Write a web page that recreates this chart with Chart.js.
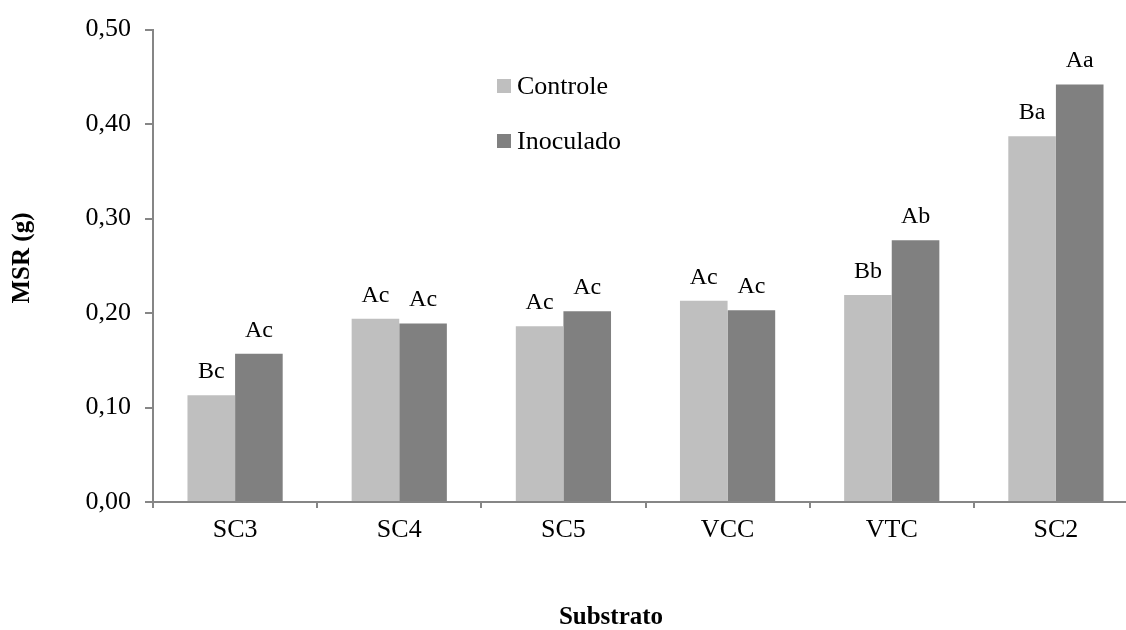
<!DOCTYPE html>
<html>
<head>
<meta charset="utf-8">
<script src="https://cdn.jsdelivr.net/npm/chart.js@4/dist/chart.umd.min.js"></script>
<style>
  html, body { margin: 0; padding: 0; background: #fff; overflow: hidden; }
  #wrap { width: 1160px; height: 630px; }
</style>
</head>
<body>
<div id="wrap"><canvas id="chart" width="1160" height="630"></canvas></div>
<script>
// ── Data ──────────
const substratos = ['SC3', 'SC4', 'SC5', 'VCC', 'VTC', 'SC2'];
const controle = [0.113, 0.194, 0.186, 0.213, 0.219, 0.387];
const inoculado = [0.157, 0.189, 0.202, 0.203, 0.277, 0.442];
const letrasControle = ['Bc', 'Ac', 'Ac', 'Ac', 'Bb', 'Ba'];
const letrasInoculado = ['Ac', 'Ac', 'Ac', 'Ac', 'Ab', 'Aa'];
const yTicks = [0, 0.1, 0.2, 0.3, 0.4, 0.5];

const SERIF = '"Liberation Serif", "Times New Roman", serif';
const AXIS_COLOR = '#868686';

// letters over bars, legend and axis titles
const extras = {
    id: 'extras',
    afterDatasetsDraw(chart) {
        const ctx = chart.ctx;
        ctx.save();
        ctx.fillStyle = '#000';
        ctx.font = '24px ' + SERIF;
        ctx.textAlign = 'center';
        ctx.textBaseline = 'alphabetic';
        [letrasControle, letrasInoculado].forEach((letters, di) => {
            chart.getDatasetMeta(di).data.forEach((bar, i) => {
                ctx.fillText(letters[i], bar.x, bar.y - 17);
            });
        });

        // legend
        ctx.font = '26px ' + SERIF;
        ctx.textAlign = 'left';
        ctx.textBaseline = 'middle';
        chart.data.datasets.forEach((ds, i) => {
            const y = 79 + i * 55;
            ctx.fillStyle = ds.backgroundColor;
            ctx.fillRect(497, y, 14, 14);
            ctx.fillStyle = '#000';
            ctx.fillText(ds.label, 517, y + 8);
        });

        // axis titles
        ctx.font = 'bold 25px ' + SERIF;
        ctx.textAlign = 'center';
        ctx.fillText('Substrato', 611, 618);
        ctx.translate(23, 258);
        ctx.rotate(-Math.PI / 2);
        ctx.fillText('MSR (g)', 0, 0);
        ctx.restore();
    }
};

new Chart(document.getElementById('chart'), {
    type: 'bar',
    data: {
        labels: substratos,
        datasets: [
            { label: 'Controle', data: controle, backgroundColor: '#bfbfbf', categoryPercentage: 0.58, barPercentage: 1 },
            { label: 'Inoculado', data: inoculado, backgroundColor: '#808080', categoryPercentage: 0.58, barPercentage: 1 }
        ]
    },
    options: {
        responsive: false,
        animation: false,
        devicePixelRatio: 1,
        layout: { padding: { top: 24, right: 22, bottom: 0, left: 0 } },
        plugins: { legend: { display: false }, tooltip: { enabled: false } },
        scales: {
            x: {
                afterFit: s => { s.height = 128; },
                border: { color: AXIS_COLOR, width: 2 },
                grid: { offset: true, drawOnChartArea: false, drawTicks: true, tickLength: 6, color: AXIS_COLOR, lineWidth: 2 },
                ticks: { color: '#000', font: { family: SERIF, size: 26 }, padding: 7 }
            },
            y: {
                min: 0, max: 0.5,
                afterFit: s => { s.width = 153; },
                afterBuildTicks: s => { s.ticks = yTicks.map(v => ({ value: v })); },
                border: { color: AXIS_COLOR, width: 2 },
                grid: { drawOnChartArea: false, drawTicks: true, tickLength: 8, color: AXIS_COLOR, lineWidth: 2 },
                ticks: { color: '#000', font: { family: SERIF, size: 26 }, padding: 14, callback: v => v.toFixed(2).replace('.', ',') }
            }
        }
    },
    plugins: [extras]
});
</script>
</body>
</html>
